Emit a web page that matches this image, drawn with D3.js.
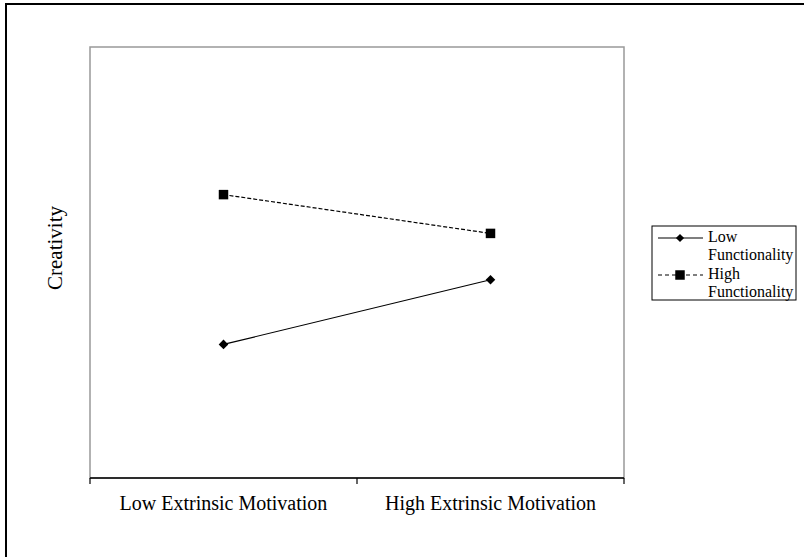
<!DOCTYPE html>
<html>
<head>
<meta charset="utf-8">
<style>
  body { margin: 0; background: #fff; }
  text { font-family: "Liberation Serif", "Times New Roman", serif; }
</style>
</head>
<body>
<svg width="804" height="557"></svg>
<script src="https://d3js.org/d3.v7.min.js"></script>
<script>
    // data
    var categories = ["Low Extrinsic Motivation", "High Extrinsic Motivation"];
    var lowFunctionality = [2.24, 2.84];
    var highFunctionality = [3.63, 3.27];
    var seriesNames = ["Low Functionality", "High Functionality"];

    var svg = d3.select("svg"),
        plot = { left: 90, right: 624, top: 47, bottom: 478 };

    // outer frame (right/bottom edges run off the page)
    svg.append("rect")
        .attr("x", 6).attr("y", 4)
        .attr("width", 820).attr("height", 580)
        .attr("fill", "none")
        .attr("stroke", "#000")
        .attr("stroke-width", 2);

    var x = d3.scaleBand().domain(categories).range([plot.left, plot.right]).padding(0),
        y = d3.scaleLinear().domain([1, 5]).range([plot.bottom, plot.top]);

    // plot area box
    svg.append("rect")
        .attr("x", plot.left).attr("y", plot.top)
        .attr("width", plot.right - plot.left)
        .attr("height", plot.bottom - plot.top)
        .attr("fill", "none")
        .attr("stroke", "#999")
        .attr("stroke-width", 1.5);

    // x axis line + ticks at band edges
    var xa = svg.append("g");
    xa.append("line")
        .attr("x1", plot.left).attr("x2", plot.right)
        .attr("y1", plot.bottom).attr("y2", plot.bottom)
        .attr("stroke", "#000").attr("stroke-width", 1.5);
    var edges = categories.map(function (c) { return x(c); }).concat([x(categories[categories.length - 1]) + x.bandwidth()]);
    xa.selectAll(".tick").data(edges).enter().append("line")
        .attr("x1", function (d) { return d; }).attr("x2", function (d) { return d; })
        .attr("y1", plot.bottom).attr("y2", plot.bottom + 6)
        .attr("stroke", "#000").attr("stroke-width", 1.2);
    xa.selectAll(".lbl").data(categories).enter().append("text")
        .attr("x", function (d) { return x(d) + x.bandwidth() / 2; })
        .attr("y", 510)
        .attr("text-anchor", "middle")
        .style("font-size", "20px")
        .attr("fill", "#000")
        .text(function (d) { return d; });

    // y title
    svg.append("text")
        .attr("transform", "translate(62,248) rotate(-90)")
        .attr("text-anchor", "middle")
        .style("font-size", "21px")
        .attr("fill", "#000")
        .text("Creativity");

    var cx = function (d, i) { return x(categories[i]) + x.bandwidth() / 2; };
    var line = d3.line().x(cx).y(function (d) { return y(d); });

    // high functionality (dashed, squares)
    svg.append("path")
        .datum(highFunctionality)
        .attr("fill", "none")
        .attr("stroke", "#000")
        .attr("stroke-width", 1.2)
        .attr("stroke-dasharray", "4,2")
        .attr("d", line);
    svg.selectAll(".sq").data(highFunctionality).enter().append("path")
        .attr("d", d3.symbol().type(d3.symbolSquare).size(90))
        .attr("transform", function (d, i) { return "translate(" + cx(d, i) + "," + y(d) + ")"; })
        .attr("fill", "#000");

    // low functionality (solid, diamonds = rotated squares)
    svg.append("path")
        .datum(lowFunctionality)
        .attr("fill", "none")
        .attr("stroke", "#000")
        .attr("stroke-width", 1.2)
        .attr("d", line);
    svg.selectAll(".dm").data(lowFunctionality).enter().append("path")
        .attr("d", d3.symbol().type(d3.symbolSquare).size(46))
        .attr("transform", function (d, i) { return "translate(" + cx(d, i) + "," + y(d) + ") rotate(45)"; })
        .attr("fill", "#000");

    // Handmade legend
    var lg = svg.append("g");
    lg.append("rect")
        .attr("x", 652).attr("y", 226)
        .attr("width", 144).attr("height", 74)
        .attr("fill", "#fff").attr("stroke", "#000").attr("stroke-width", 1);

    lg.append("line").attr("x1", 658).attr("x2", 703).attr("y1", 238).attr("y2", 238)
        .attr("stroke", "#000").attr("stroke-width", 1.2);
    lg.append("path").attr("d", d3.symbol().type(d3.symbolSquare).size(34))
        .attr("transform", "translate(680,238) rotate(45)").attr("fill", "#000");
    lg.append("text").attr("x", 708).attr("y", 242).style("font-size", "16px").text("Low");
    lg.append("text").attr("x", 708).attr("y", 260).style("font-size", "16px").text("Functionality");

    lg.append("line").attr("x1", 658).attr("x2", 703).attr("y1", 275).attr("y2", 275)
        .attr("stroke", "#000").attr("stroke-width", 1.2).attr("stroke-dasharray", "4,3");
    lg.append("path").attr("d", d3.symbol().type(d3.symbolSquare).size(90))
        .attr("transform", "translate(680,275)").attr("fill", "#000");
    lg.append("text").attr("x", 708).attr("y", 279).style("font-size", "16px").text("High");
    lg.append("text").attr("x", 708).attr("y", 297).style("font-size", "16px").text("Functionality");
</script>
</body>
</html>
